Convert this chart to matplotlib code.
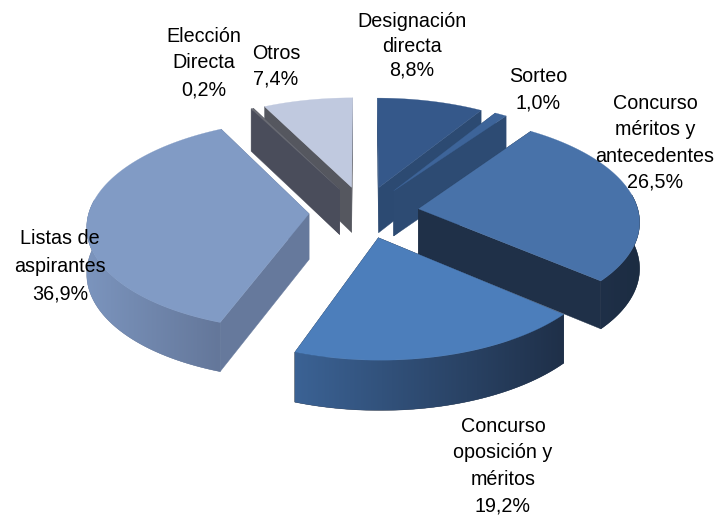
import numpy as np
import matplotlib
matplotlib.use("Agg")
import matplotlib.pyplot as plt
from matplotlib.colors import to_rgb
from matplotlib.patches import Polygon

plt.rcParams['font.family'] = ['Liberation Sans', 'DejaVu Sans']

# values, clockwise from 12 o'clock
names = ["Designación\ndirecta", "Sorteo", "Concurso\nméritos y\nantecedentes",
         "Concurso\noposición y\nméritos", "Listas de\naspirantes", "Elección\nDirecta", "Otros"]
values = [8.8, 1.0, 26.5, 19.2, 36.9, 0.2, 7.4]
value_labels = ["8,8%", "1,0%", "26,5%", "19,2%", "36,9%", "0,2%", "7,4%"]

top_colors = ["#35588a", "#3d6499", "#4872a9", "#4c7ebb", "#819bc5", "#6a6c74", "#c0c9df"]
face_colors = ["#2c4a72", "#2d4b73", "#1f3048", "#1f3048", "#66799c", "#4a4d5b", "#55575f"]
wall_left = ["#2c4a72", "#2d4b73", "#1f3048", "#3b6294", "#7b94bd", "#4a4d5b", "#55575f"]
wall_right = ["#2c4a72", "#2d4b73", "#1c2c42", "#1f3049", "#64779a", "#4a4d5b", "#55575f"]
draw_order = [6, 5, 0, 1, 4, 2, 3]

# label centre (px), line spacing
label_pos = [(412, 46), (538, 90), (655, 143), (503, 466), (60, 266), (204, 63), (276, 66)]
label_ls = [1.36, 1.48, 1.47, 1.5, 1.57, 1.5, 1.42]

# projection of the tilted pie
cx, cy = 364, 212
A, B = 220, 103.8
persp = 0.105
explode = 0.25
D, q = 45.8, 0.0706


def project(X, Y):
    w = 1 + persp * Y
    return cx + A * X / w, cy - B * Y / w


def drop(Y):
    return D / (1 + q * Y)


fig = plt.figure(figsize=(7.2, 5.19), dpi=100)
ax = fig.add_axes([0, 0, 1, 1])
ax.axis('off')

edges = np.cumsum([0] + values) / sum(values) * 2 * np.pi
z = 1

for i in draw_order:
    t0, t1 = edges[i], edges[i + 1]
    mid = (t0 + t1) / 2
    ox, oy = explode * np.sin(mid), explode * np.cos(mid)
    theta = np.linspace(t0, t1, max(int((t1 - t0) * 60), 2))
    arcX, arcY = ox + np.sin(theta), oy + np.cos(theta)

    # radial side faces
    for t in (t0, t1):
        xs, ys = np.array([ox, ox + np.sin(t)]), np.array([oy, oy + np.cos(t)])
        px, py = project(xs, ys)
        bot = py + drop(ys)
        ax.fill(np.r_[px, px[::-1]], np.r_[py, bot[::-1]], color=face_colors[i], lw=0.3, zorder=z)
        z += 1

    # outer wall with a left to right gradient
    px, py = project(arcX, arcY)
    bot = py + drop(arcY)
    vis = arcY < oy + 0.15
    if vis.sum() > 1:
        wx, wt, wb = px[vis], py[vis], bot[vis]
        verts = np.c_[np.r_[wx, wx[::-1]], np.r_[wt, wb[::-1]]]
        ax.add_patch(Polygon(verts, closed=True, color=wall_right[i], lw=0.3, zorder=z))
        z += 1
        ramp = np.linspace(0, 1, 64)[None, :, None]
        grad = np.array(to_rgb(wall_left[i]))[None, None, :] * (1 - ramp) + np.array(to_rgb(wall_right[i]))[None, None, :] * ramp
        im = ax.imshow(grad, extent=[wx.min(), wx.max(), wb.max(), wt.min()], aspect='auto',
                       interpolation='bilinear', zorder=z)
        im.set_clip_path(Polygon(verts, closed=True, transform=ax.transData))
        z += 1

    # top face
    apx, apy = project(np.array([ox]), np.array([oy]))
    ax.fill(np.r_[apx, px], np.r_[apy, py], color=top_colors[i], lw=0.2, zorder=z)
    z += 1

ax.set_xlim(0, 720)
ax.set_ylim(519, 0)

for i in range(len(values)):
    ax.text(label_pos[i][0], label_pos[i][1], names[i] + "\n" + value_labels[i], ha='center', va='center',
            ma='center', fontsize=14.2, color='black', linespacing=label_ls[i], zorder=z + 1)

fig.savefig("out.png", dpi=100)
